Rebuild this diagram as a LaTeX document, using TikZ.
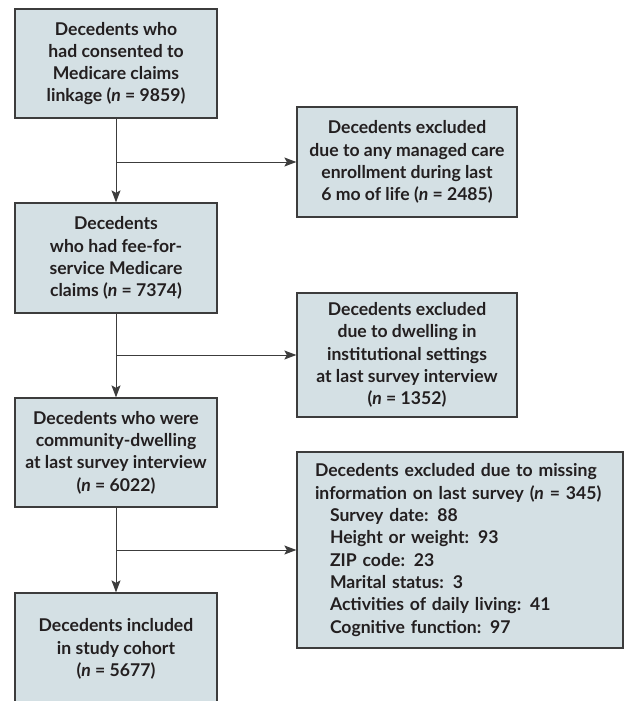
\documentclass[tikz,border=0pt]{standalone}
\usepackage{fontspec}
\setmainfont{Lato}
\usetikzlibrary{arrows.meta}
\definecolor{boxfill}{HTML}{D4E0E4}
\definecolor{boxline}{HTML}{3C3C3C}
\definecolor{txt}{HTML}{231F20}
\tikzset{
  flowbox/.style={draw=boxline, line width=1.3pt, fill=boxfill, text=txt, align=center,
    inner sep=0pt, font=\fontsize{17.6}{22.3}\selectfont\bfseries},
  leftbox/.style={flowbox, minimum width=202pt},
  arr/.style={draw=boxline, line width=1pt, -{Stealth[length=12pt,width=9pt,inset=2.5pt]}},
  plain/.style={draw=boxline, line width=1pt}
}
\newcommand{\nn}{\textit{n}}
\begin{document}
\begin{tikzpicture}[x=1pt,y=-1pt]
\useasboundingbox (0,0) rectangle (626,701);
\clip (0,0) rectangle (626,701);
\node[leftbox, minimum height=109pt] (b1) at (116,63.5)
  {Decedents who\\had consented to\\Medicare claims\\linkage (\nn{} = 9859)};
\node[flowbox, minimum width=220pt, minimum height=110pt] (r1) at (407,162)
  {Decedents excluded\\due to any managed care\\enrollment during last\\6 mo of life (\nn{} = 2485)};
\node[leftbox, minimum height=110pt] (b2) at (116,258)
  {Decedents\\who had fee-for-\\service Medicare\\claims (\nn{} = 7374)};
\node[flowbox, minimum width=220pt, minimum height=124pt] (r2) at (407,355)
  {Decedents excluded\\due to dwelling in\\institutional settings\\at last survey interview\\(\nn{} = 1352)};
\node[leftbox, minimum height=109pt] (b3) at (116,452.5)
  {Decedents who were\\community-dwelling\\at last survey interview\\(\nn{} = 6022)};
\node[flowbox, align=left, text width=290pt, inner xsep=18pt, minimum height=196pt] (r3) at (460,550)
  {Decedents excluded due to missing\\information on last survey (\nn{} = 345)\\
   \hspace*{15pt}Survey date: 88\\
   \hspace*{15pt}Height or weight: 93\\
   \hspace*{15pt}ZIP code: 23\\
   \hspace*{15pt}Marital status: 3\\
   \hspace*{15pt}Activities of daily living: 41\\
   \hspace*{15pt}Cognitive function: 97};
\node[leftbox, minimum height=112pt] (b4) at (116,649)
  {Decedents included\\in study cohort\\(\nn{} = 5677)};
\coordinate (j1) at (b1.south |- r1.west);
\coordinate (j2) at (b2.south |- r2.west);
\coordinate (j3) at (b3.south |- r3.west);
\draw[arr] (b1.south) -- (b2.north);
\draw[arr] (j1) -- (r1.west);
\draw[arr] (b2.south) -- (b3.north);
\draw[arr] (j2) -- (r2.west);
\draw[arr] (b3.south) -- (b4.north);
\draw[arr] (j3) -- (r3.west);
\end{tikzpicture}
\end{document}
